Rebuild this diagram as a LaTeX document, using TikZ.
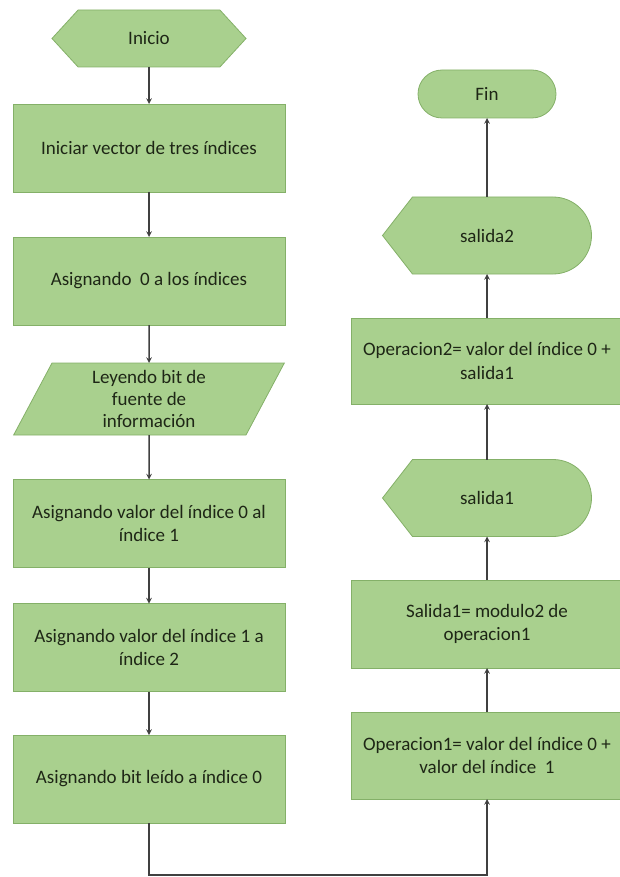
\documentclass[tikz,border=0pt]{standalone}
\usepackage{fontspec}
\setmainfont{Carlito}
\usetikzlibrary{shapes,backgrounds}
\definecolor{boxfill}{RGB}{169,208,142}
\definecolor{boxline}{RGB}{132,176,104}
\definecolor{txtcol}{RGB}{30,38,22}
\definecolor{arrowcol}{RGB}{64,64,64}

\begin{document}
\begin{tikzpicture}[x=1pt,y=-1pt,>=stealth]
\tikzstyle{every node}=[font=\fontsize{19}{23.5}\selectfont, text=txtcol, align=center, inner sep=2pt, outer sep=0pt]
\tikzstyle{proc}=[rectangle, fill=boxfill, draw=boxline, line width=0.8pt, minimum width=272pt, minimum height=88pt]
\tikzstyle{hexa}=[signal, signal to=west and east, signal pointer angle=95, fill=boxfill, draw=boxline, line width=0.8pt, minimum width=194pt, minimum height=57pt]
\tikzstyle{io}=[trapezium, trapezium left angle=69, trapezium right angle=111, trapezium stretches=true, fill=boxfill, draw=boxline, line width=0.8pt, minimum width=271pt, minimum height=72pt, font=\fontsize{19}{21.7}\selectfont]
\tikzstyle{term}=[rounded rectangle, fill=boxfill, draw=boxline, line width=0.8pt, minimum width=142pt, minimum height=48pt]
\tikzstyle{disp}=[rectangle, inner sep=0pt, minimum width=209pt, minimum height=77pt]
\tikzstyle{flow}=[->, draw=arrowcol, line width=1.5pt]
\useasboundingbox (0,0) rectangle (619,877);
\node[hexa] (inicio) at (149,38.5) {Inicio};
\node[proc] (vec) at (149,148) {Iniciar vector de tres índices};
\node[proc] (cero) at (149,281) {Asignando\ \ 0 a los índices};
\node[io] (leer) at (149,399) {Leyendo bit de\\fuente de\\información};
\node[proc] (i01) at (149,523.5) {Asignando valor del índice 0 al\\índice 1};
\node[proc] (i12) at (149,647.5) {Asignando valor del índice 1 a\\índice 2};
\node[proc] (bit) at (149,779) {Asignando bit leído a índice 0};
\node[proc, minimum height=87pt] (op1) at (487,755.5) {Operacion1= valor del índice 0 +\\valor del índice\ \ 1};
\node[proc] (sal1) at (487,624) {Salida1= modulo2 de\\operacion1};
\node[disp] (d1) at (487,498) {salida1};
\node[proc, minimum height=86pt] (op2) at (487,361) {Operacion2= valor del índice 0 +\\salida1};
\node[disp] (d2) at (487,235.5) {salida2};
\node[term] (fin) at (487,94) {Fin};
\coordinate (bajo) at (487,875);
\begin{scope}[on background layer]
\foreach \n in {d1,d2}
  \draw[fill=boxfill, draw=boxline, line width=0.8pt] (\n.west) -- ([xshift=30pt]\n.north west) -- ([xshift=-38.5pt]\n.north east) arc (90:-90:38.5pt) -- ([xshift=30pt]\n.south west) -- cycle;
\end{scope}
\foreach \a/\b in {inicio/vec, vec/cero, cero/leer, leer/i01, i01/i12, i12/bit}
  \draw[flow] (\a.south) -- (\b.north);
\draw[flow] (bit.south) |- (bajo) -- (op1.south);
\foreach \a/\b in {op1/sal1, sal1/d1, d1/op2, op2/d2, d2/fin}
  \draw[flow] (\a.north) -- (\b.south);
\end{tikzpicture}
\end{document}
